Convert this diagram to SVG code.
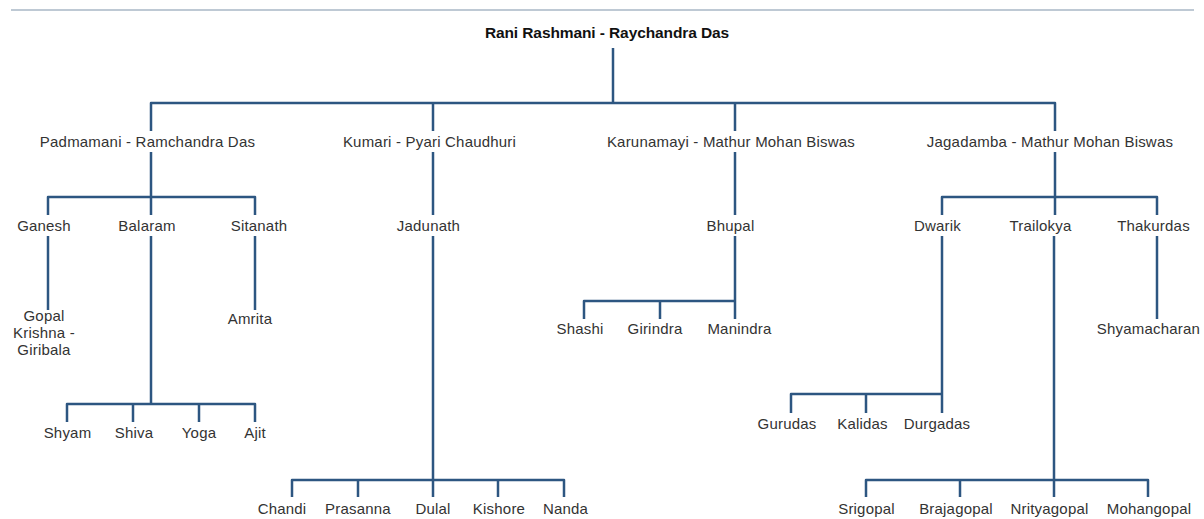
<svg xmlns="http://www.w3.org/2000/svg" width="1204" height="519" viewBox="0 0 1204 519">
<style>
.c{fill:none;stroke:#2d5681;stroke-width:2.5;stroke-linejoin:round;stroke-linecap:butt}
.t{font-family:"Liberation Sans",Arial,sans-serif;font-size:15px;fill:#333;text-anchor:middle;letter-spacing:0.2px}
.b{font-family:"Liberation Sans",Arial,sans-serif;font-size:15.5px;font-weight:bold;fill:#111;text-anchor:middle;letter-spacing:-0.1px}
</style>
<rect width="1204" height="519" fill="#fff"/>
<line x1="11" y1="10" x2="1194" y2="10" stroke="#7f93aa" stroke-width="1.2"/>
<g id="connectors">
<path class="c" d="M613,48 V103"/>
<path class="c" d="M151,131 V103 H1055 V131 M433,103 V131 M735,103 V131"/>
<path class="c" d="M151,152 V215 M48,215 V197 H255 V215"/>
<path class="c" d="M433,152 V215"/>
<path class="c" d="M735,152 V215"/>
<path class="c" d="M1055,152 V215 M942,215 V197 H1157 V215"/>
<path class="c" d="M48,236 V310"/>
<path class="c" d="M255,236 V310"/>
<path class="c" d="M151,236 V404 M67,422 V404 H255 V422 M133,404 V422 M199,404 V422"/>
<path class="c" d="M433,236 V497 M292,497 V480 H564 V497 M358,480 V497"/>
<path class="c" d="M498,480 V497"/>
<path class="c" d="M735,236 V319 M584,319 V301 H735 M660,301 V319"/>
<path class="c" d="M942,236 V413 M791,413 V394 H942 M866,394 V413"/>
<path class="c" d="M1054,236 V497 M866,497 V480 H1148 V497 M960,480 V497"/>
<path class="c" d="M1157,236 V319"/>
</g>
<g id="n-root"><text class="b" x="607" y="38">Rani Rashmani - Raychandra Das</text></g>
<g id="n-padmamani"><text class="t" x="147.5" y="147">Padmamani - Ramchandra Das</text></g>
<g id="n-kumari"><text class="t" x="429.5" y="147">Kumari - Pyari Chaudhuri</text></g>
<g id="n-karunamayi"><text class="t" x="731" y="147">Karunamayi - Mathur Mohan Biswas</text></g>
<g id="n-jagadamba"><text class="t" x="1050" y="147">Jagadamba - Mathur Mohan Biswas</text></g>
<g id="n-ganesh"><text class="t" x="44" y="231">Ganesh</text></g>
<g id="n-balaram"><text class="t" x="147" y="231">Balaram</text></g>
<g id="n-sitanath"><text class="t" x="259" y="231">Sitanath</text></g>
<g id="n-jadunath"><text class="t" x="428.5" y="231">Jadunath</text></g>
<g id="n-bhupal"><text class="t" x="730.5" y="231">Bhupal</text></g>
<g id="n-dwarik"><text class="t" x="937.5" y="231">Dwarik</text></g>
<g id="n-trailokya"><text class="t" x="1040.5" y="231">Trailokya</text></g>
<g id="n-thakurdas"><text class="t" x="1153.5" y="231">Thakurdas</text></g>
<g id="n-gopal"><text class="t" x="44" y="321">Gopal</text><text class="t" x="44" y="338">Krishna -</text><text class="t" x="44" y="355">Giribala</text></g>
<g id="n-amrita"><text class="t" x="250" y="324">Amrita</text></g>
<g id="n-shashi"><text class="t" x="580" y="334">Shashi</text></g>
<g id="n-girindra"><text class="t" x="655" y="334">Girindra</text></g>
<g id="n-manindra"><text class="t" x="739.5" y="334">Manindra</text></g>
<g id="n-shyamacharan"><text class="t" x="1148.5" y="334">Shyamacharan</text></g>
<g id="n-gurudas"><text class="t" x="787" y="429">Gurudas</text></g>
<g id="n-kalidas"><text class="t" x="862.5" y="429">Kalidas</text></g>
<g id="n-durgadas"><text class="t" x="937" y="429">Durgadas</text></g>
<g id="n-shyam"><text class="t" x="67.5" y="438">Shyam</text></g>
<g id="n-shiva"><text class="t" x="134" y="438">Shiva</text></g>
<g id="n-yoga"><text class="t" x="199" y="438">Yoga</text></g>
<g id="n-ajit"><text class="t" x="255" y="438">Ajit</text></g>
<g id="n-chandi"><text class="t" x="282" y="514">Chandi</text></g>
<g id="n-prasanna"><text class="t" x="358" y="514">Prasanna</text></g>
<g id="n-dulal"><text class="t" x="433" y="514">Dulal</text></g>
<g id="n-kishore"><text class="t" x="499" y="514">Kishore</text></g>
<g id="n-nanda"><text class="t" x="565.5" y="514">Nanda</text></g>
<g id="n-srigopal"><text class="t" x="866.5" y="514">Srigopal</text></g>
<g id="n-brajagopal"><text class="t" x="956" y="514">Brajagopal</text></g>
<g id="n-nrityagopal"><text class="t" x="1049.5" y="514">Nrityagopal</text></g>
<g id="n-mohangopal"><text class="t" x="1149" y="514">Mohangopal</text></g>
</svg>
